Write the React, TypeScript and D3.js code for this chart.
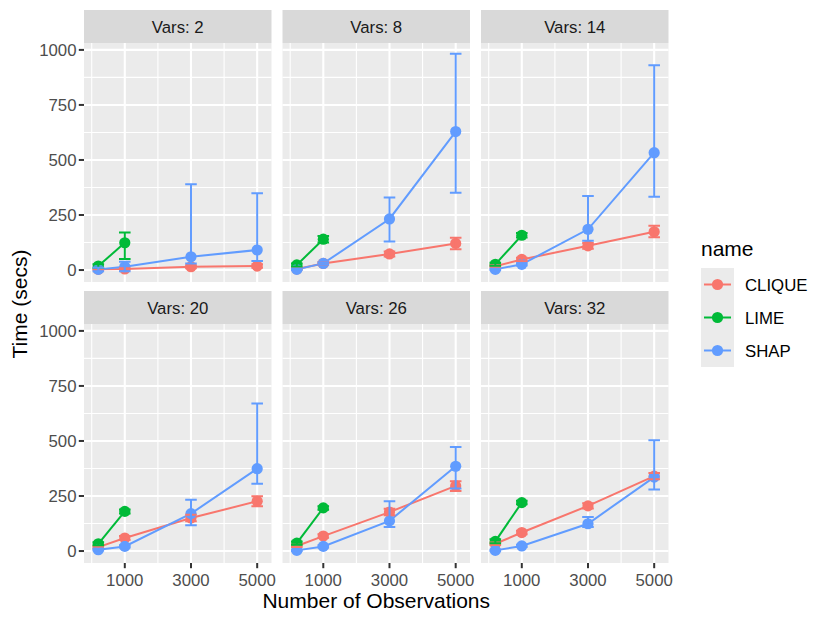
import React from 'react';
import * as d3 from 'd3';

// facets and x positions
const varsLevels = [2, 8, 14, 20, 26, 32];
const observations = [200, 1000, 3000, 5000];
const limeObservations = [200, 1000];
const methodNames = ['CLIQUE', 'LIME', 'SHAP'];
const methodColors = ['#F8766D', '#00BA38', '#619CFF'];
const xTicks = [1000, 3000, 5000];
const yTicks = [0, 250, 500, 750, 1000];

// CLIQUE, one row per facet
const cliqueMean = [
  [3, 5, 15, 18],
  [5, 30, 73, 121],
  [17, 48, 110, 174],
  [18, 59, 150, 226],
  [23, 68, 177, 296],
  [33, 84, 205, 340],
];
const cliqueLo = [
  [1, 2, 8, 10],
  [2, 25, 62, 94],
  [12, 40, 97, 149],
  [13, 50, 135, 203],
  [18, 60, 162, 273],
  [27, 76, 193, 326],
];
const cliqueHi = [
  [5, 8, 22, 26],
  [8, 36, 84, 147],
  [22, 56, 123, 201],
  [23, 68, 165, 249],
  [28, 76, 192, 317],
  [39, 92, 217, 354],
];

// LIME only ran on the two small sizes
const limeMean = [
  [18, 124],
  [23, 140],
  [26, 158],
  [33, 180],
  [36, 196],
  [44, 220],
];
const limeLo = [
  [10, 50],
  [16, 125],
  [19, 148],
  [26, 171],
  [29, 188],
  [35, 212],
];
const limeHi = [
  [26, 170],
  [30, 155],
  [33, 168],
  [40, 189],
  [43, 204],
  [53, 228],
];

// SHAP
const shapMean = [
  [3, 15, 60, 91],
  [3, 30, 232, 629],
  [3, 26, 185, 533],
  [6, 21, 170, 374],
  [3, 21, 137, 385],
  [3, 23, 124, 336],
];
const shapLo = [
  [-5, -5, 30, 41],
  [0, 25, 130, 351],
  [0, 21, 133, 333],
  [2, 16, 117, 306],
  [0, 16, 109, 284],
  [0, 18, 109, 279],
];
const shapHi = [
  [10, 38, 390, 349],
  [6, 35, 329, 982],
  [6, 31, 336, 930],
  [10, 26, 233, 670],
  [6, 26, 226, 473],
  [6, 28, 155, 503],
];

interface Pt {
  x: number;
  y: number;
  lo: number;
  hi: number;
}

const seriesFor = (f: number): Pt[][] => {
  const build = (xs: number[], m: number[][], lo: number[][], hi: number[][]) =>
    xs.map((x, i) => ({ x, y: m[f][i], lo: lo[f][i], hi: hi[f][i] }));
  return [
    build(observations, cliqueMean, cliqueLo, cliqueHi),
    build(limeObservations, limeMean, limeLo, limeHi),
    build(observations, shapMean, shapLo, shapHi),
  ];
};

const FONT = '"Liberation Sans", Arial, sans-serif';
const W = 830;
const H = 623;
const panelLeft = 84;
const panelW = 187.5;
const colGap = 11;
const stripTop = 10;
const stripH = 33;
const panelH = 239;
const rowStep = 281;
const barHalf = 175; // errorbar half width, data units

const App: React.FC = () => {
  const allLo = [cliqueLo, limeLo, shapLo].flat(2);
  const allHi = [cliqueHi, limeHi, shapHi].flat(2);
  const yMin = d3.min(allLo) as number;
  const yMax = d3.max(allHi) as number;
  const yPad = (yMax - yMin) * 0.05;
  const xMin = (d3.min(observations) as number) - barHalf;
  const xMax = (d3.max(observations) as number) + barHalf;
  const xPad = (xMax - xMin) * 0.05;

  const x = d3.scaleLinear().domain([xMin - xPad, xMax + xPad]).range([0, panelW]);
  const y = d3.scaleLinear().domain([yMin - yPad, yMax + yPad]).range([panelH, 0]);
  const xMinor = [0, 2000, 4000];
  const yMinor = [125, 375, 625, 875];
  const line = d3
    .line<Pt>()
    .x((d) => x(d.x))
    .y((d) => y(d.y));
  const capW = x(barHalf) - x(0);

  const panelsRight = panelLeft + 3 * panelW + 2 * colGap;

  return (
    <svg
      width={W}
      height={H}
      style={{ position: 'absolute', left: 0, top: 0, background: '#fff' }}
      fontFamily={FONT}
    >
      {varsLevels.map((v, f) => {
        const col = f % 3;
        const row = Math.floor(f / 3);
        const px = panelLeft + col * (panelW + colGap);
        const sy = stripTop + row * rowStep;
        const py = sy + stripH;
        const series = seriesFor(f);
        return (
          <g key={v}>
            <rect x={px} y={sy} width={panelW} height={stripH} fill="#D9D9D9" />
            <text
              x={px + panelW / 2}
              y={sy + stripH / 2}
              dy="0.36em"
              textAnchor="middle"
              fontSize={16.8}
              fill="#1A1A1A"
            >
              {`Vars: ${v}`}
            </text>
            <g transform={`translate(${px},${py})`}>
              <rect width={panelW} height={panelH} fill="#EBEBEB" />
              {yMinor.map((t) => (
                <line key={t} x1={0} x2={panelW} y1={y(t)} y2={y(t)} stroke="#fff" strokeWidth={1.1} />
              ))}
              {xMinor.map((t) => (
                <line key={t} y1={0} y2={panelH} x1={x(t)} x2={x(t)} stroke="#fff" strokeWidth={1.1} />
              ))}
              {yTicks.map((t) => (
                <line key={t} x1={0} x2={panelW} y1={y(t)} y2={y(t)} stroke="#fff" strokeWidth={2.1} />
              ))}
              {xTicks.map((t) => (
                <line key={t} y1={0} y2={panelH} x1={x(t)} x2={x(t)} stroke="#fff" strokeWidth={2.1} />
              ))}
              {series.map((s, i) => (
                <path key={i} d={line(s) || ''} fill="none" stroke={methodColors[i]} strokeWidth={2} />
              ))}
              {series.map((s, i) => (
                <g key={i} fill={methodColors[i]}>
                  {s.map((d) => (
                    <circle key={d.x} cx={x(d.x)} cy={y(d.y)} r={5.6} />
                  ))}
                </g>
              ))}
              {series.map((s, i) => (
                <g key={i} stroke={methodColors[i]} strokeWidth={2} fill="none">
                  {s.map((d) => (
                    <path
                      key={d.x}
                      d={`M${x(d.x) - capW},${y(d.hi)}H${x(d.x) + capW}M${x(d.x)},${y(d.hi)}V${y(
                        d.lo
                      )}M${x(d.x) - capW},${y(d.lo)}H${x(d.x) + capW}`}
                    />
                  ))}
                </g>
              ))}
              {col === 0 &&
                yTicks.map((t) => (
                  <g key={t} transform={`translate(0,${y(t)})`}>
                    <line x1={-5.2} x2={0} stroke="#333" strokeWidth={2} />
                    <text x={-7.5} dy="0.36em" textAnchor="end" fontSize={16.8} fill="#4D4D4D">
                      {t}
                    </text>
                  </g>
                ))}
              {row === 1 &&
                xTicks.map((t) => (
                  <g key={t} transform={`translate(${x(t)},${panelH})`}>
                    <line y1={0} y2={5.2} stroke="#333" strokeWidth={2} />
                    <text y={23} textAnchor="middle" fontSize={16.8} fill="#4D4D4D">
                      {t}
                    </text>
                  </g>
                ))}
            </g>
          </g>
        );
      })}

      <text x={(panelLeft + panelsRight) / 2} y={608} textAnchor="middle" fontSize={21} fill="#000">
        Number of Observations
      </text>
      <text
        transform={`translate(27,${(stripTop + stripH + rowStep + stripH + panelH) / 2 + 6}) rotate(-90)`}
        textAnchor="middle"
        fontSize={21}
        fill="#000"
      >
        Time (secs)
      </text>

      <g transform="translate(701,0)">
        <text x={0} y={256} fontSize={21} fill="#000">
          name
        </text>
        {methodNames.map((n, i) => {
          const ky = 268 + i * 33;
          return (
            <g key={n}>
              <rect x={0} y={ky} width={33} height={33} fill="#EBEBEB" />
              <line x1={3} x2={30} y1={ky + 16.5} y2={ky + 16.5} stroke={methodColors[i]} strokeWidth={2} />
              <circle cx={16.5} cy={ky + 16.5} r={5.6} fill={methodColors[i]} />
              <text x={44} y={ky + 16.5} dy="0.36em" fontSize={16.8} fill="#000">
                {n}
              </text>
            </g>
          );
        })}
      </g>
    </svg>
  );
};

export default App;
